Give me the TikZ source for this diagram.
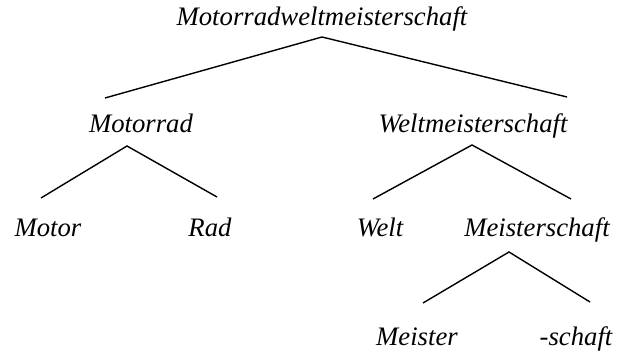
\documentclass[tikz,border=0pt]{standalone}
\usepackage{fontspec}
\setmainfont{Liberation Serif}
\begin{document}
\begin{tikzpicture}[x=1pt,y=-1pt,
  word/.style={anchor=base,inner sep=0pt,font=\fontsize{26.7}{30}\selectfont\itshape},
  branch/.style={line width=1.4pt}]
\useasboundingbox (0,0) rectangle (626,352);
% words of the compound tree
\node[word] (root) at (322,26) {Motorradweltmeisterschaft};
\node[word] (mr)   at (141,133) {Motorrad};
\node[word] (wm)   at (473,133) {Weltmeisterschaft};
\node[word] (mo)   at (48,237)  {Motor};
\node[word] (rad)  at (210,237) {Rad};
\node[word] (we)   at (380,237) {Welt};
\node[word] (ms)   at (537,237) {Meisterschaft};
\node[word] (mei)  at (417,345) {Meister};
\node[word] (sch)  at (576,345) {-schaft};
% branch points
\coordinate (root-a) at (322,37);
\coordinate (root-l) at (105,98);
\coordinate (root-r) at (567,97);
\coordinate (mr-a) at (127,146);
\coordinate (mr-l) at (41,198);
\coordinate (mr-r) at (217,197);
\coordinate (wm-a) at (472,145);
\coordinate (wm-l) at (373,199);
\coordinate (wm-r) at (571,199);
\coordinate (ms-a) at (509,252);
\coordinate (ms-l) at (423,303);
\coordinate (ms-r) at (590,302);
% branches
\draw[branch] (root-l) -- (root-a) -- (root-r);
\draw[branch] (mr-l) -- (mr-a) -- (mr-r);
\draw[branch] (wm-l) -- (wm-a) -- (wm-r);
\draw[branch] (ms-l) -- (ms-a) -- (ms-r);
\end{tikzpicture}
\end{document}
